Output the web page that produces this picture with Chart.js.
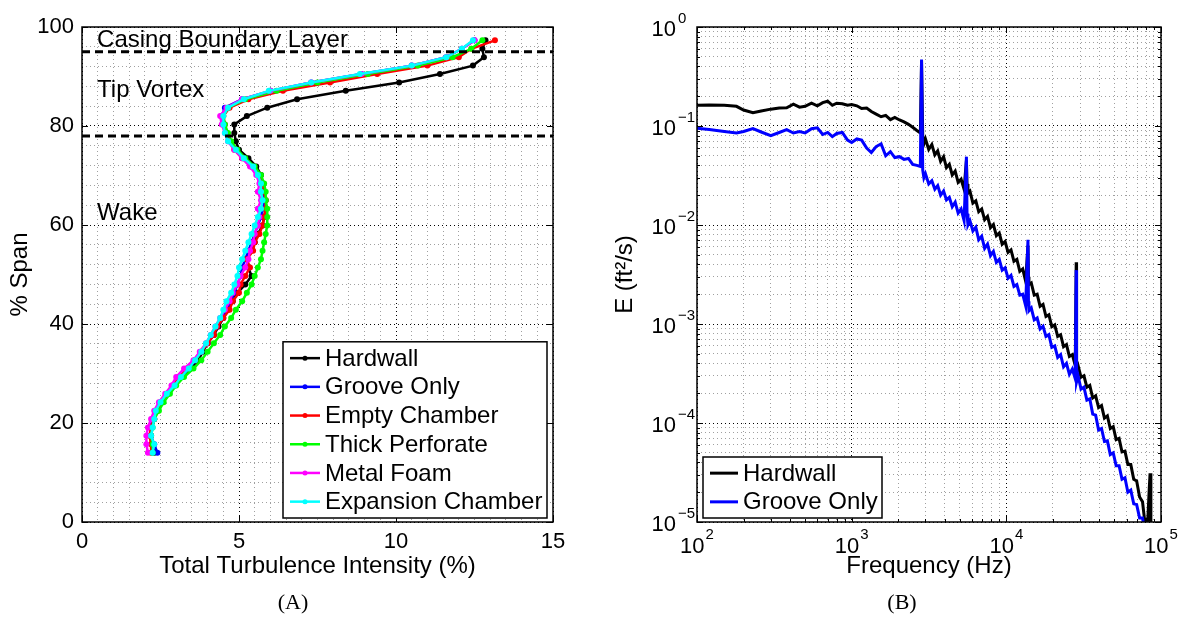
<!DOCTYPE html>
<html>
<head>
<meta charset="utf-8">
<title>Turbulence intensity and spectra</title>
<script src="https://cdn.jsdelivr.net/npm/chart.js@4.4.1/dist/chart.umd.min.js"></script>
<style>
  body { margin: 0; background: #fff; width: 1182px; height: 619px; overflow: hidden; position: relative; }
  canvas { position: absolute; top: 0; }
  #spanChart { left: 0; }
  #spectrumChart { left: 600px; }
  .caption { position: absolute; top: 602px; font: 22px "Liberation Serif", "Times New Roman", serif; color: #000; transform: translate(-50%, -50%); }
</style>
</head>
<body>
<canvas id="spanChart" width="600" height="619"></canvas>
<canvas id="spectrumChart" width="582" height="619"></canvas>
<div class="caption" style="left:293px">(A)</div>
<div class="caption" style="left:902px">(B)</div>
<script>
// ---- (A) turbulence intensity profiles over the blade span ----
var spanStations = [14.0, 15.7, 17.4, 19.1, 20.8, 22.5, 24.2, 25.9, 27.6, 29.3,
    31.0, 32.7, 34.4, 36.1, 37.8, 39.5, 41.2, 42.9, 44.6, 46.3,
    48.0, 49.7, 51.4, 53.1, 54.8, 56.5, 58.2, 59.9, 61.6, 63.3,
    65.0, 66.7, 68.4, 70.1, 71.8, 73.5, 75.2, 76.9, 78.6, 80.3,
    82.0, 83.7, 85.4, 87.1, 88.8, 90.5, 92.2, 93.9, 95.6, 97.3];

var hardwallTI = [2.3, 2.25, 2.2, 2.2, 2.3, 2.4, 2.55, 2.75, 2.95, 3.2,
    3.45, 3.7, 3.85, 4.0, 4.2, 4.35, 4.5, 4.65, 4.8, 4.95,
    5.2, 5.4, 5.3, 5.25, 5.35, 5.5, 5.6, 5.75, 5.8, 5.85,
    5.85, 5.8, 5.75, 5.7, 5.55, 5.3, 5.0, 4.9, 4.85, 4.85,
    5.25, 5.9, 6.85, 8.4, 10.1, 11.4, 12.45, 12.8, 12.75, 12.85];
var grooveOnlyTI = [2.4, 2.3, 2.2, 2.2, 2.3, 2.4, 2.5, 2.7, 2.9, 3.15,
    3.4, 3.6, 3.8, 4.0, 4.15, 4.3, 4.45, 4.6, 4.75, 4.85,
    4.95, 5.05, 5.1, 5.2, 5.3, 5.4, 5.5, 5.6, 5.7, 5.75,
    5.8, 5.75, 5.7, 5.6, 5.4, 5.15, 4.9, 4.7, 4.6, 4.5,
    4.45, 4.55, 5.1, 6.0, 7.3, 8.9, 10.5, 11.6, 12.1, 12.5];
var emptyChamberTI = [2.2, 2.2, 2.15, 2.2, 2.3, 2.4, 2.55, 2.7, 2.9, 3.1,
    3.35, 3.6, 3.8, 4.0, 4.2, 4.3, 4.5, 4.7, 4.8, 5.0,
    5.05, 5.2, 5.35, 5.25, 5.45, 5.5, 5.65, 5.75, 5.8, 5.85,
    5.85, 5.8, 5.75, 5.6, 5.4, 5.1, 4.85, 4.7, 4.6, 4.55,
    4.5, 4.7, 5.3, 6.4, 7.9, 9.4, 11.0, 12.0, 12.4, 13.15];
var thickPerforateTI = [2.25, 2.25, 2.2, 2.25, 2.3, 2.45, 2.6, 2.8, 3.0, 3.25,
    3.55, 3.8, 4.0, 4.2, 4.4, 4.55, 4.75, 4.9, 5.1, 5.25,
    5.4, 5.5, 5.6, 5.7, 5.75, 5.8, 5.85, 5.9, 5.9, 5.9,
    5.85, 5.85, 5.8, 5.7, 5.5, 5.2, 4.95, 4.75, 4.65, 4.55,
    4.5, 4.65, 5.2, 6.2, 7.5, 9.1, 10.7, 11.8, 12.4, 12.75];
var metalFoamTI = [2.1, 2.05, 2.05, 2.1, 2.2, 2.3, 2.45, 2.65, 2.85, 3.0,
    3.25, 3.55, 3.75, 3.95, 4.1, 4.25, 4.4, 4.55, 4.7, 4.8,
    4.95, 5.05, 5.2, 5.3, 5.35, 5.45, 5.5, 5.6, 5.65, 5.6,
    5.7, 5.6, 5.65, 5.55, 5.35, 5.1, 4.85, 4.65, 4.55, 4.45,
    4.4, 4.6, 5.1, 6.0, 7.3, 8.9, 10.5, 11.6, 12.1, 12.5];
var expansionChamberTI = [2.25, 2.3, 2.2, 2.25, 2.3, 2.35, 2.5, 2.7, 2.95, 3.15,
    3.4, 3.6, 3.8, 3.95, 4.1, 4.25, 4.4, 4.5, 4.6, 4.75,
    4.85, 4.95, 5.0, 5.1, 5.2, 5.3, 5.4, 5.5, 5.6, 5.7,
    5.75, 5.7, 5.7, 5.6, 5.45, 5.15, 4.9, 4.65, 4.55, 4.5,
    4.5, 4.65, 5.15, 5.95, 7.3, 8.85, 10.5, 11.6, 12.1, 12.45];

var treatmentNames = ['Hardwall', 'Groove Only', 'Empty Chamber', 'Thick Perforate', 'Metal Foam', 'Expansion Chamber'];
var treatmentColors = ['#000000', '#0000ff', '#ff0000', '#00ff00', '#ff00ff', '#00ffff'];
var treatmentTI = [hardwallTI, grooveOnlyTI, emptyChamberTI, thickPerforateTI, metalFoamTI, expansionChamberTI];

var regionBounds = [95, 78];
var regionNames = ['Casing Boundary Layer', 'Tip Vortex', 'Wake'];
var regionNameSpan = [97.2, 87.1, 62.3];

var intensityTicks = [0, 5, 10, 15];
var spanTicks = [0, 20, 40, 60, 80, 100];

// ---- (B) energy spectra ----
var frequencyHz = [100, 120, 150, 180, 200, 230, 260, 300, 340, 380,
    420, 460, 500, 550, 600, 650, 700, 750, 800, 870,
    940, 1000, 1080, 1160, 1250, 1340, 1440, 1550, 1660, 1780,
    1900, 2040, 2180, 2330, 2480, 2640, 2780, 2830, 2880, 2930,
    3000, 3150, 3300, 3450, 3600, 3760, 3930, 4100, 4280, 4470,
    4670, 4880, 5100, 5330, 5520, 5570, 5650, 5820, 6080, 6350,
    6630, 6930, 7240, 7560, 7900, 8250, 8620, 9000, 9400, 9820,
    10260, 10720, 11200, 11700, 12220, 12760, 13330, 13800, 13900, 14000,
    14500, 15150, 15820, 16530, 17270, 18040, 18840, 19680, 20560, 21480,
    22440, 23440, 24480, 25570, 26710, 27900, 28300, 28400, 28500, 29100,
    30400, 31750, 33170, 34650, 36190, 37800, 39490, 41250, 43090, 45010,
    47010, 49110, 51300, 53580, 55970, 58470, 61070, 63790, 66640, 69610,
    72710, 75950, 78500, 80000, 82000, 84000, 85000, 86000, 88000];

var hardwallE = [0.162, 0.163, 0.162, 0.158, 0.145, 0.136, 0.142, 0.148, 0.152, 0.153,
    0.166, 0.155, 0.158, 0.170, 0.160, 0.172, 0.178, 0.162, 0.170, 0.168,
    0.162, 0.165, 0.160, 0.150, 0.152, 0.140, 0.132, 0.124, 0.128, 0.116,
    0.122, 0.115, 0.110, 0.104, 0.097, 0.090, 0.085, 0.45, 0.080, 0.066,
    0.074, 0.058, 0.065, 0.051, 0.056, 0.044, 0.049, 0.038, 0.041, 0.032,
    0.035, 0.027, 0.029, 0.023, 0.045, 0.026, 0.021, 0.022, 0.0166, 0.0175,
    0.0136, 0.0145, 0.0113, 0.0122, 0.0094, 0.0101, 0.0078, 0.0083, 0.0064, 0.0068,
    0.0053, 0.0056, 0.0043, 0.0045, 0.0034, 0.0036, 0.0027, 0.0062, 0.0030, 0.0025,
    0.0026, 0.00196, 0.0020, 0.00151, 0.00158, 0.00119, 0.00124, 0.00094, 0.00098, 0.00075,
    0.00078, 0.00059, 0.00062, 0.00047, 0.00049, 0.00038, 0.0042, 0.00042, 0.00035, 0.00038,
    0.00029, 0.00030, 0.00023, 0.00024, 0.000179, 0.000188, 0.000143, 0.000150, 0.000112, 0.000118,
    0.000088, 0.000092, 0.000068, 0.000070, 0.000051, 0.000052, 0.000038, 0.000038, 0.000027, 0.000026,
    0.0000179, 0.000016, 0.0000102, 0.0000105, 0.0000098, 0.000022, 0.000031, 0.000009, 0.000007];

var grooveOnlyE = [0.095, 0.092, 0.088, 0.085, 0.088, 0.094, 0.087, 0.080, 0.086, 0.092,
    0.085, 0.088, 0.085, 0.094, 0.096, 0.082, 0.086, 0.078, 0.084, 0.086,
    0.072, 0.068, 0.074, 0.072, 0.060, 0.054, 0.062, 0.066, 0.050, 0.055,
    0.048, 0.049, 0.046, 0.047, 0.041, 0.040, 0.039, 0.47, 0.036, 0.030,
    0.033, 0.026, 0.028, 0.023, 0.025, 0.020, 0.022, 0.0179, 0.019, 0.0153,
    0.017, 0.0132, 0.0145, 0.0111, 0.049, 0.013, 0.0100, 0.011, 0.0087, 0.0095,
    0.0071, 0.0077, 0.0058, 0.0064, 0.0049, 0.0054, 0.0042, 0.0045, 0.0035, 0.0037,
    0.0029, 0.0031, 0.0024, 0.0025, 0.00196, 0.0020, 0.00153, 0.0071, 0.0017, 0.00136,
    0.00145, 0.0011, 0.00115, 0.00089, 0.00095, 0.00075, 0.00078, 0.00058, 0.00060, 0.00046,
    0.00049, 0.00037, 0.00040, 0.00031, 0.00035, 0.00028, 0.0035, 0.00032, 0.00026, 0.00030,
    0.00022, 0.00023, 0.00017, 0.000175, 0.000123, 0.000120, 0.000085, 0.000088, 0.000065, 0.000066,
    0.000048, 0.000050, 0.000037, 0.000037, 0.000027, 0.000028, 0.000020, 0.000021, 0.0000153, 0.000015,
    0.000011, 0.000011, 0.0000081, 0.000008, 0.000006, 0.000006, 0.000006, 0.000005, 0.000005];

var frequencyDecades = [1e2, 1e3, 1e4, 1e5];
var energyDecades = [1e-5, 1e-4, 1e-3, 1e-2, 1e-1, 1];

var fontSans = '"Liberation Sans", Arial, Helvetica, sans-serif';
var tickFont = { family: fontSans, size: 22 };
var titleFont = { family: fontSans, size: 24 };

// major ticks plus evenly spaced minor ones in between
function linearTicks(majors, subdivisions) {
    var ticks = [];
    for (var i = 0; i < majors.length; i++) {
        ticks.push({ value: majors[i], major: true });
        if (i < majors.length - 1) {
            var step = (majors[i + 1] - majors[i]) / subdivisions;
            for (var k = 1; k < subdivisions; k++) ticks.push({ value: majors[i] + step * k, major: false });
        }
    }
    return ticks;
}

// decades plus 2..9 of each decade
function logTicks(decades) {
    var ticks = [];
    for (var i = 0; i < decades.length; i++) {
        ticks.push({ value: decades[i], major: true });
        if (i < decades.length - 1) {
            for (var k = 2; k <= 9; k++) ticks.push({ value: decades[i] * k, major: false });
        }
    }
    return ticks;
}

var gridStyle = {
    color: function(c) { return c.tick && c.tick.major ? '#000000' : '#a0a0a0'; },
    lineWidth: 1,
    drawTicks: false
};
var gridBorder = { display: false, dash: [1, 3] };

// frame round the plot area and inward tick marks on all four sides
var axesBoxPlugin = {
    id: 'axesBox',
    afterDatasetsDraw: function(chart, args, opts) {
        var a = chart.chartArea, ctx = chart.ctx;
        var xs = chart.scales.x, ys = chart.scales.y;
        ctx.save();
        ctx.strokeStyle = '#000';
        ctx.lineWidth = 1;
        ctx.beginPath();
        xs.ticks.forEach(function(t) {
            var len = t.major ? 6 : (opts.minorTicks ? 3 : 0);
            if (!len) return;
            var px = Math.round(xs.getPixelForValue(t.value)) + 0.5;
            ctx.moveTo(px, a.bottom); ctx.lineTo(px, a.bottom - len);
            ctx.moveTo(px, a.top); ctx.lineTo(px, a.top + len);
        });
        ys.ticks.forEach(function(t) {
            var len = t.major ? 6 : (opts.minorTicks ? 3 : 0);
            if (!len) return;
            var py = Math.round(ys.getPixelForValue(t.value)) + 0.5;
            ctx.moveTo(a.left, py); ctx.lineTo(a.left + len, py);
            ctx.moveTo(a.right, py); ctx.lineTo(a.right - len, py);
        });
        ctx.stroke();
        ctx.lineWidth = 1.5;
        ctx.strokeRect(a.left, a.top, a.right - a.left, a.bottom - a.top);
        ctx.restore();
    }
};

// boxed legend inside the plot area
var boxLegendPlugin = {
    id: 'boxLegend',
    afterDatasetsDraw: function(chart, args, opts) {
        var a = chart.chartArea, ctx = chart.ctx;
        var items = chart.data.datasets.filter(function(d) { return d.label; });
        var w = opts.width;
        var h = opts.rowHeight * items.length + opts.pad * 2;
        var x0 = opts.side === 'left' ? a.left + opts.inset : a.right - opts.inset - w;
        var y0 = a.bottom - opts.bottom - h;
        ctx.save();
        ctx.fillStyle = '#fff';
        ctx.fillRect(x0, y0, w, h);
        ctx.lineWidth = 1.5;
        ctx.strokeStyle = '#000';
        ctx.strokeRect(x0, y0, w, h);
        ctx.font = '24px ' + fontSans;
        ctx.textBaseline = 'middle';
        items.forEach(function(d, i) {
            var y = y0 + opts.pad + opts.rowHeight * (i + 0.5);
            ctx.strokeStyle = d.borderColor;
            ctx.lineWidth = d.borderWidth;
            ctx.beginPath();
            ctx.moveTo(x0 + 7, y);
            ctx.lineTo(x0 + 7 + opts.lineLength, y);
            ctx.stroke();
            if (d.pointRadius) {
                ctx.fillStyle = d.borderColor;
                ctx.beginPath();
                ctx.arc(x0 + 7 + opts.lineLength / 2, y, d.pointRadius - 0.5, 0, Math.PI * 2);
                ctx.fill();
            }
            ctx.fillStyle = '#000';
            ctx.fillText(d.label, x0 + 12 + opts.lineLength, y + 1);
        });
        ctx.restore();
    }
};

// names of the flow regions, written at the left of the profile plot
var regionLabelPlugin = {
    id: 'regionLabels',
    afterDatasetsDraw: function(chart) {
        var xs = chart.scales.x, ys = chart.scales.y, ctx = chart.ctx;
        ctx.save();
        ctx.font = '24px ' + fontSans;
        ctx.fillStyle = '#000';
        ctx.textBaseline = 'middle';
        for (var i = 0; i < regionNames.length; i++) {
            ctx.fillText(regionNames[i], xs.getPixelForValue(0.48), ys.getPixelForValue(regionNameSpan[i]));
        }
        ctx.restore();
    }
};

// "10" with a raised exponent for the log axes
var powerLabelPlugin = {
    id: 'powerLabels',
    afterDraw: function(chart) {
        var ctx = chart.ctx, a = chart.chartArea;
        var base = '22px ' + fontSans, sup = '15px ' + fontSans;
        function exponent(v) {
            var e = Math.round(Math.log10(v));
            return (e < 0 ? '\u2212' : '') + Math.abs(e);
        }
        ctx.save();
        ctx.fillStyle = '#000';
        ctx.textBaseline = 'middle';
        frequencyDecades.forEach(function(v) {
            var e = exponent(v);
            var px = chart.scales.x.getPixelForValue(v);
            ctx.font = base;
            var w1 = ctx.measureText('10').width;
            ctx.font = sup;
            var w2 = ctx.measureText(e).width;
            var x0 = px - (w1 + w2 + 1) / 2;
            ctx.textAlign = 'left';
            ctx.font = base;
            ctx.fillText('10', x0, a.bottom + 25);
            ctx.font = sup;
            ctx.fillText(e, x0 + w1 + 1, a.bottom + 13);
        });
        energyDecades.forEach(function(v) {
            var py = chart.scales.y.getPixelForValue(v);
            ctx.font = base;
            ctx.textAlign = 'right';
            ctx.fillText('10', a.left - 21, py + 3);
            ctx.font = sup;
            ctx.textAlign = 'left';
            ctx.fillText(exponent(v), a.left - 19, py - 8);
        });
        ctx.restore();
    }
};

// profile datasets, later treatments drawn on top
var spanDatasets = treatmentNames.map(function(name, i) {
    return {
        label: name,
        data: spanStations.map(function(s, j) { return { x: treatmentTI[i][j], y: s }; }),
        showLine: true,
        borderColor: treatmentColors[i],
        backgroundColor: treatmentColors[i],
        borderWidth: 2.5,
        pointRadius: 3,
        pointBorderWidth: 0,
        pointBackgroundColor: treatmentColors[i],
        order: treatmentNames.length - i + 1
    };
});
regionBounds.forEach(function(b) {
    spanDatasets.push({
        data: [{ x: intensityTicks[0], y: b }, { x: intensityTicks[intensityTicks.length - 1], y: b }],
        showLine: true,
        borderColor: '#000',
        borderWidth: 3,
        borderDash: [8, 5],
        pointRadius: 0,
        order: 0
    });
});

new Chart(document.getElementById('spanChart'), {
    type: 'scatter',
    data: { datasets: spanDatasets },
    options: {
        responsive: false,
        animation: false,
        layout: { autoPadding: false, padding: { top: 27, right: 47, left: 0, bottom: 0 } },
        plugins: {
            legend: { display: false },
            tooltip: { enabled: false },
            axesBox: { minorTicks: false },
            boxLegend: { side: 'right', inset: 6, bottom: 4, width: 264, rowHeight: 28.7, pad: 2, lineLength: 30 }
        },
        scales: {
            x: {
                type: 'linear', min: 0, max: 15,
                afterBuildTicks: function(scale) { scale.ticks = linearTicks(intensityTicks, 10); },
                afterFit: function(scale) { scale.height = 97; },
                grid: gridStyle,
                border: gridBorder,
                ticks: {
                    autoSkip: false, maxRotation: 0, padding: 7, font: tickFont, color: '#000',
                    callback: function(v, i, ticks) { return ticks[i].major ? v : ''; }
                },
                title: { display: true, text: 'Total Turbulence Intensity (%)', font: titleFont, color: '#000', padding: { top: 0, bottom: 38 } }
            },
            y: {
                type: 'linear', min: 0, max: 100,
                afterBuildTicks: function(scale) { scale.ticks = linearTicks(spanTicks, 5); },
                afterFit: function(scale) { scale.width = 82; },
                grid: gridStyle,
                border: gridBorder,
                ticks: {
                    autoSkip: false, padding: 8, font: tickFont, color: '#000',
                    callback: function(v, i, ticks) { return ticks[i].major ? v : ''; }
                },
                title: { display: true, text: '% Span', font: titleFont, color: '#000', padding: { top: 6, bottom: 0 } }
            }
        }
    },
    plugins: [axesBoxPlugin, boxLegendPlugin, regionLabelPlugin]
});

new Chart(document.getElementById('spectrumChart'), {
    type: 'scatter',
    data: {
        datasets: [{
            label: 'Hardwall',
            data: frequencyHz.map(function(f, j) { return { x: f, y: hardwallE[j] }; }),
            showLine: true,
            borderColor: '#000000',
            borderWidth: 3,
            pointRadius: 0,
            order: 2
        }, {
            label: 'Groove Only',
            data: frequencyHz.map(function(f, j) { return { x: f, y: grooveOnlyE[j] }; }),
            showLine: true,
            borderColor: '#0000ff',
            borderWidth: 3,
            pointRadius: 0,
            order: 1
        }]
    },
    options: {
        responsive: false,
        animation: false,
        layout: { autoPadding: false, padding: { top: 27, right: 21, left: 0, bottom: 0 } },
        plugins: {
            legend: { display: false },
            tooltip: { enabled: false },
            axesBox: { minorTicks: true },
            boxLegend: { side: 'left', inset: 6, bottom: 4, width: 179, rowHeight: 28.7, pad: 1.8, lineLength: 28 }
        },
        scales: {
            x: {
                type: 'logarithmic', min: 1e2, max: 1e5,
                afterBuildTicks: function(scale) { scale.ticks = logTicks(frequencyDecades); },
                afterFit: function(scale) { scale.height = 97; },
                grid: gridStyle,
                border: gridBorder,
                ticks: { display: false, autoSkip: false },
                title: { display: true, text: 'Frequency (Hz)', font: titleFont, color: '#000', padding: { top: 0, bottom: 38 } }
            },
            y: {
                type: 'logarithmic', min: 1e-5, max: 1,
                afterBuildTicks: function(scale) { scale.ticks = logTicks(energyDecades); },
                afterFit: function(scale) { scale.width = 97; },
                grid: gridStyle,
                border: gridBorder,
                ticks: { display: false, autoSkip: false },
                title: { display: true, text: 'E (ft\u00b2/s)', font: titleFont, color: '#000', padding: { top: 11, bottom: 0 } }
            }
        }
    },
    plugins: [axesBoxPlugin, boxLegendPlugin, powerLabelPlugin]
});
</script>
</body>
</html>
